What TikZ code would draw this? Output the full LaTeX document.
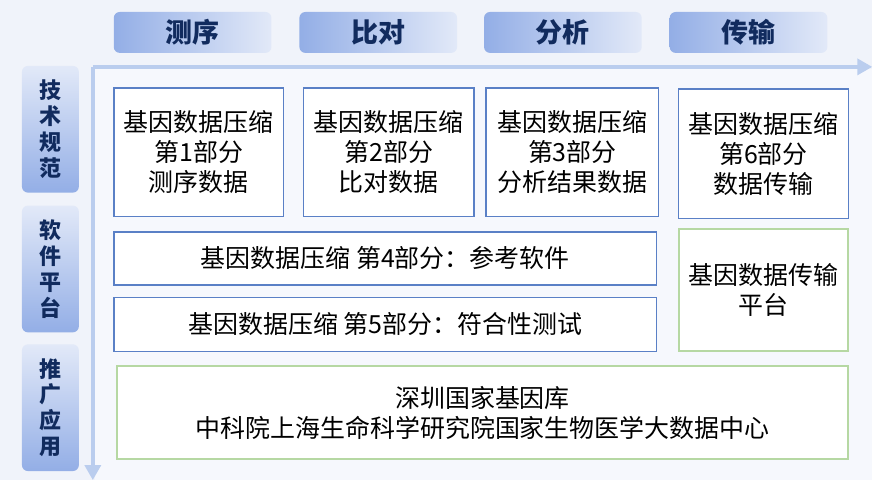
\documentclass[tikz,border=0pt]{standalone}
\usepackage{fontspec}
\setmainfont{Noto Sans CJK SC}
\usetikzlibrary{arrows.meta}
\definecolor{bgcol}{HTML}{F0F3FA}
\definecolor{panelcol}{HTML}{F6F8FD}
\definecolor{tabdark}{HTML}{93AEE6}
\definecolor{tablight}{HTML}{E2E9F8}
\definecolor{navy}{HTML}{112B5E}
\definecolor{bluebord}{HTML}{5A80C6}
\definecolor{greenbord}{HTML}{B6D8A3}
\definecolor{axiscol}{HTML}{BACDEE}
\tikzset{
	headtab/.style={rounded corners=6pt, left color=tabdark, right color=tablight, minimum width=158pt, minimum height=41pt, text=navy, font=\fontsize{27}{30}\selectfont\bfseries},
	sidetab/.style={rounded corners=6pt, bottom color=tabdark, top color=tablight, minimum width=57pt, minimum height=127pt, text=navy, align=center, font=\fontsize{22}{26}\selectfont\bfseries},
	bluebox/.style={draw=bluebord, line width=1.6pt, fill=white, align=center, inner sep=0pt, font=\fontsize{25}{30}\selectfont},
	greenbox/.style={draw=greenbord, line width=2pt, fill=white, align=center, inner sep=0pt, font=\fontsize{25}{30}\selectfont},
	axis/.style={draw=axiscol, line width=3.5pt, -{Triangle[length=15pt,width=16pt]}}
}
\begin{document}
\begin{tikzpicture}[x=1pt, y=-1pt]
	
	%Background
	\fill[bgcol] (0,0) rectangle (874,481);
	\fill[panelcol] (95,69) rectangle (874,481);
	
	%Stage tabs
	\node[headtab] (seqTab) at (193,32.5) {测序};
	\node[headtab] (alnTab) at (379,32.5) {比对};
	\node[headtab] (anaTab) at (564,32.5) {分析};
	\node[headtab] (traTab) at (750,32.5) {传输};
	
	%Level tabs
	\node[sidetab] (specTab) at (50.5,129.5) {技\\术\\规\\范};
	\node[sidetab] (softTab) at (50.5,269.5) {软\\件\\平\\台};
	\node[sidetab] (appTab) at (50.5,408.5) {推\\广\\应\\用};
	
	%Axes
	\coordinate (orig) at (93,67);
	\coordinate (xEnd) at (874,67);
	\coordinate (yEnd) at (93,481);
	\draw[axis] (orig) -- (xEnd);
	\draw[axis] (orig) -- (yEnd);
	
	%Technical specification parts
	\node[bluebox, minimum width=170pt, minimum height=129pt] (partOne) at (199,152.5) {基因数据压缩\\第1部分\\测序数据};
	\node[bluebox, minimum width=171pt, minimum height=129pt] (partTwo) at (389.5,152.5) {基因数据压缩\\第2部分\\比对数据};
	\node[bluebox, minimum width=173pt, minimum height=129pt] (partThree) at (573.5,152.5) {基因数据压缩\\第3部分\\分析结果数据};
	\node[bluebox, minimum width=170pt, minimum height=130pt] (partSix) at (765,154) {基因数据压缩\\第6部分\\数据传输};
	
	%Software and platform
	\node[bluebox, minimum width=544pt, minimum height=53pt] (partFour) at (386,259) {基因数据压缩 第4部分：参考软件};
	\node[bluebox, minimum width=544pt, minimum height=54pt] (partFive) at (386,325) {基因数据压缩 第5部分：符合性测试};
	\node[greenbox, minimum width=170pt, minimum height=123pt] (platform) at (765,290.5) {基因数据传输\\平台};
	
	%Applications
	\node[greenbox, minimum width=733pt, minimum height=93pt] (users) at (483.5,413.5) {深圳国家基因库\\中科院上海生命科学研究院国家生物医学大数据中心};
	
\end{tikzpicture}
\end{document}
